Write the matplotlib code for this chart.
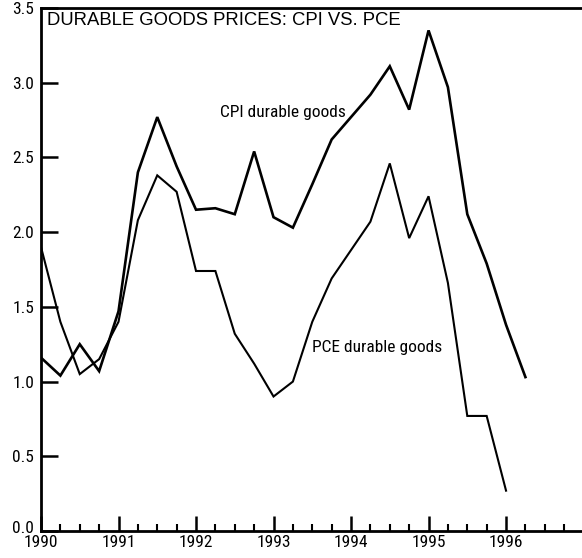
import matplotlib
matplotlib.use("Agg")
import matplotlib.pyplot as plt
from matplotlib.ticker import MultipleLocator
from matplotlib.transforms import ScaledTranslation
import numpy as np

# quarterly data, starting 1990Q1
cpi_durable = [1.16, 1.04, 1.25, 1.07, 1.47, 2.40, 2.77, 2.44, 2.15, 2.16, 2.12, 2.54,
               2.10, 2.03, 2.32, 2.62, 2.77, 2.92, 3.11, 2.82, 3.35, 2.97, 2.12, 1.79,
               1.38, 1.03]
pce_durable = [1.90, 1.40, 1.05, 1.15, 1.40, 2.08, 2.38, 2.27, 1.74, 1.74, 1.32, 1.12,
               0.90, 1.00, 1.40, 1.69, 1.88, 2.07, 2.46, 1.96, 2.24, 1.66, 0.77, 0.77,
               0.27]
start_year = 1990
year_ticks = [1990, 1991, 1992, 1993, 1994, 1995, 1996]
y_ticks = [0.0, 0.5, 1.0, 1.5, 2.0, 2.5, 3.0, 3.5]
title = "DURABLE GOODS PRICES: CPI VS. PCE"
cpi_label = "CPI durable goods"
pce_label = "PCE durable goods"

narrow = ["Roboto Condensed", "Archivo Narrow", "Liberation Sans Narrow", "DejaVu Sans"]

fig = plt.figure(figsize=(5.82, 5.58), dpi=100)
ax = fig.add_axes([41/582, 1-531/558, 1-41/582, (531-8)/558])

x_cpi = start_year + np.arange(len(cpi_durable)) * 0.25
x_pce = start_year + np.arange(len(pce_durable)) * 0.25
ax.plot(x_cpi, cpi_durable, color="black", lw=1.9, solid_joinstyle="miter")
ax.plot(x_pce, pce_durable, color="black", lw=1.5, solid_joinstyle="miter")

ax.set_xlim(1990, 1996.98)
ax.set_ylim(0, 3.5)

ax.set_xticks(year_ticks)
ax.set_xticklabels([str(y) for y in year_ticks], fontfamily=narrow, fontsize=12.5)
ax.xaxis.set_minor_locator(MultipleLocator(0.25))
ax.set_yticks(y_ticks)
ax.set_yticklabels([f"{v:.1f}" for v in y_ticks], fontfamily=narrow, fontsize=12.5)

ax.tick_params(axis="x", which="major", direction="in", length=11, width=1.8, pad=3)
ax.tick_params(axis="x", which="minor", direction="in", length=5, width=1.5)
ax.tick_params(axis="y", which="major", direction="in", length=12, width=1.8, pad=5)

for s in ["left", "bottom", "top"]:
    ax.spines[s].set_linewidth(2.0)
ax.spines["right"].set_visible(False)

# lift the "0.0" label slightly so it clears the "1990" label, as in the original
zero_lab = ax.yaxis.get_major_ticks()[0].label1
zero_lab.set_transform(zero_lab.get_transform() + ScaledTranslation(0, 3/72, fig.dpi_scale_trans))

ax.text(0.012, 0.992, title, transform=ax.transAxes, ha="left", va="top",
        fontfamily=["Liberation Sans", "DejaVu Sans"], fontsize=13.3)
ax.text(1992.31, 2.80, cpi_label, ha="left", va="center",
        fontfamily=narrow, fontsize=12.5)
ax.text(1993.49, 1.23, pce_label, ha="left", va="center",
        fontfamily=narrow, fontsize=12.5)

fig.savefig("out.png", dpi=100)
